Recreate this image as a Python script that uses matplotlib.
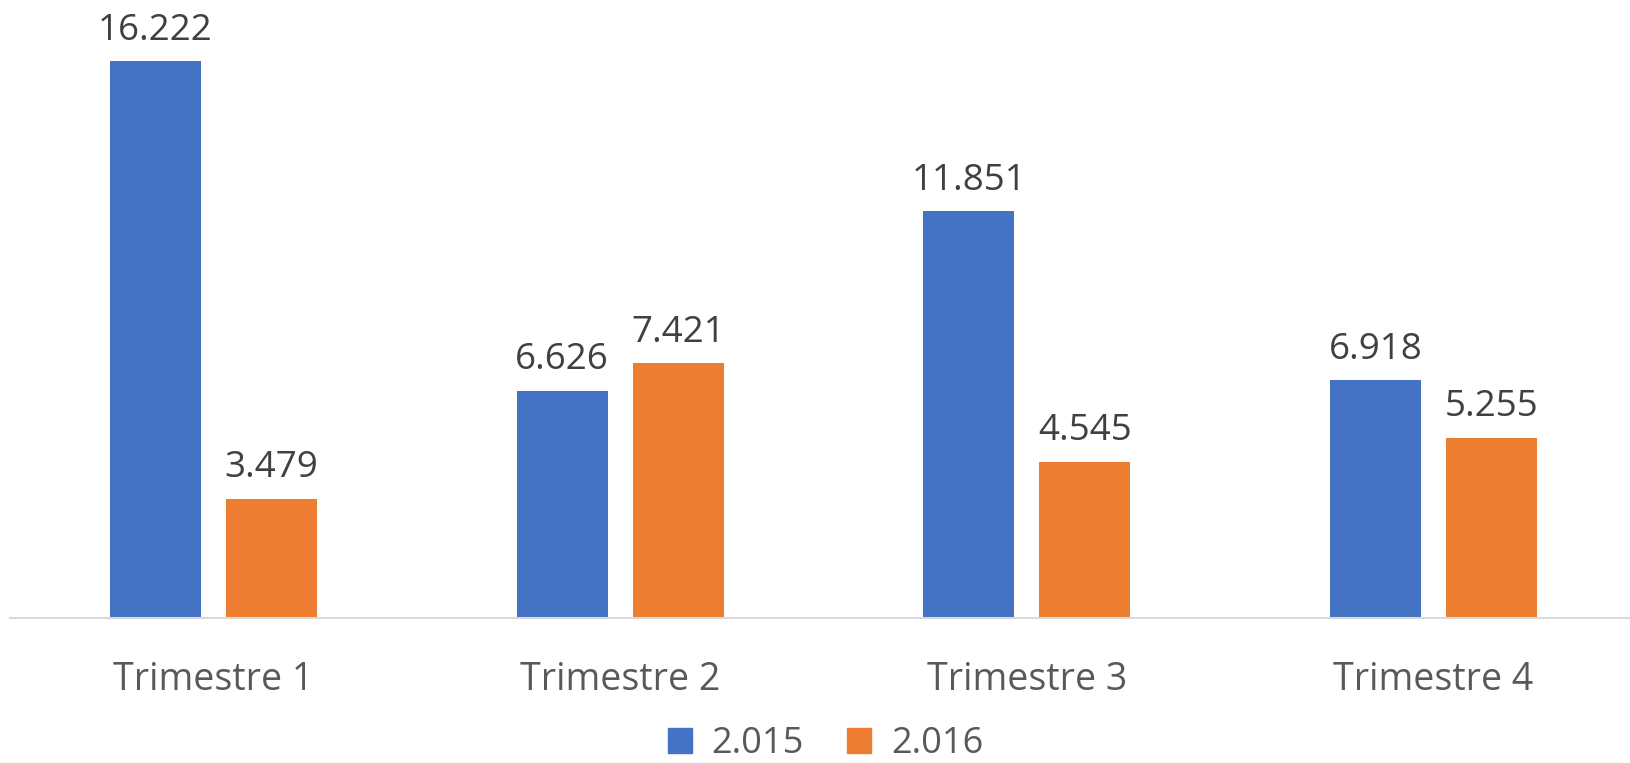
import matplotlib
matplotlib.use("Agg")
import matplotlib.pyplot as plt
from matplotlib.patches import Patch
import numpy as np

categories = ["Trimestre 1", "Trimestre 2", "Trimestre 3", "Trimestre 4"]
series_names = ["2.015", "2.016"]
values_2015 = [16.222, 6.626, 11.851, 6.918]
values_2016 = [3.479, 7.421, 4.545, 5.255]
label_2015 = ["16.222", "6.626", "11.851", "6.918"]
label_2016 = ["3.479", "7.421", "4.545", "5.255"]

colors = ["#4472C4", "#ED7D31"]
W, H = 1630, 763
fig = plt.figure(figsize=(W / 100, H / 100), dpi=100)
plt.rcParams['font.family'] = ['Open Sans', 'DejaVu Sans']

left = 10.2 / W
right = 1636.8 / W
bottom = 1 - 618 / H
ax = fig.add_axes([left, bottom, right - left, 1 - bottom])
ax.set_xlim(-0.5, 3.5)
ax.set_ylim(0, 18)

x = np.arange(len(categories))
bw = 0.224
off = 0.1426
b1 = ax.bar(x - off, values_2015, bw, color=colors[0], zorder=2)
b2 = ax.bar(x + off, values_2016, bw, color=colors[1], zorder=2)
ax.bar_label(b1, labels=label_2015, padding=9, fontsize=26.5, color="#404040")
ax.bar_label(b2, labels=label_2016, padding=9, fontsize=26.5, color="#404040")

for s in ["top", "left", "right"]:
    ax.spines[s].set_visible(False)
ax.spines["bottom"].set_color("#d9d9d9")
ax.spines["bottom"].set_linewidth(1.5)
ax.set_yticks([])
ax.set_xticks(x)
ax.set_xticklabels(categories, fontsize=27, color="#595959")
ax.tick_params(axis="x", length=0, pad=31)

handles = [Patch(color=colors[0], label=series_names[0]),
           Patch(color=colors[1], label=series_names[1])]
fig.legend(handles=handles, loc="center", bbox_to_anchor=(825.5 / W, 1 - 744 / H),
           ncol=2, frameon=False, fontsize=26, labelcolor="#595959",
           handlelength=0.665, handleheight=0.665, handletextpad=0.55,
           columnspacing=1.2, borderpad=0, borderaxespad=0)

fig.savefig("out.png", dpi=100)
